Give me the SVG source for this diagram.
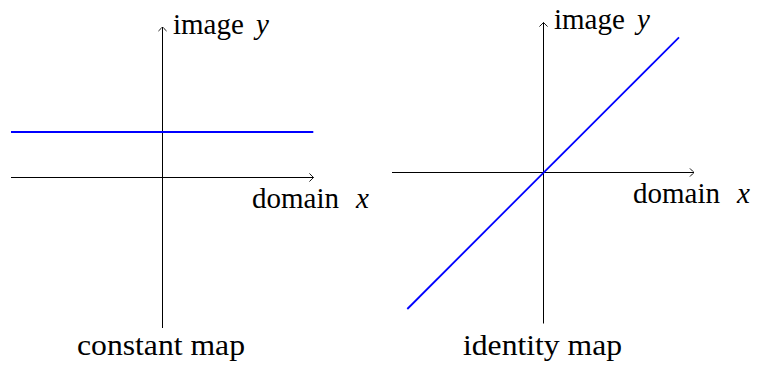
<svg xmlns="http://www.w3.org/2000/svg" width="758" height="367" viewBox="0 0 758 367">
<style>
.axis{stroke:#000;stroke-width:1;fill:none}
.graph{stroke:#0000ff;stroke-width:1.8;fill:none}
.lbl{font-family:"Liberation Serif","Times New Roman",serif;font-size:29px;fill:#000}
.m{font-style:italic;font-size:29px}
</style>
<defs>
<marker id="to" viewBox="-6 -6 8 12" markerWidth="8" markerHeight="12" refX="0" refY="0" orient="auto" markerUnits="userSpaceOnUse">
<path d="M-3.8,-3.8 Q-1,-0.9 0,0 Q-1,0.9 -3.8,3.8" fill="none" stroke="#000" stroke-width="0.9" stroke-linecap="round"/>
</marker>
</defs>
<g id="connectors">
<line class="axis" x1="11" y1="177.5" x2="313.5" y2="177.5" marker-end="url(#to)"/>
<line class="axis" x1="162.5" y1="328" x2="162.5" y2="27" marker-end="url(#to)"/>
<line class="axis" x1="392" y1="172.5" x2="694" y2="172.5" marker-end="url(#to)"/>
<line class="axis" x1="543.5" y1="323.5" x2="543.5" y2="22.5" marker-end="url(#to)"/>
<line class="graph" x1="11" y1="132" x2="313.3" y2="132"/>
<line class="graph" x1="407.3" y1="309" x2="679" y2="37.3"/>
</g>
<g id="constant-map">
<text class="lbl" x="173" y="34">image<tspan class="m" x="256">y</tspan></text>
<text class="lbl" x="252" y="208">domain<tspan class="m" x="356">x</tspan></text>
<text class="lbl" x="77" y="355" textLength="168" lengthAdjust="spacingAndGlyphs">constant map</text>
</g>
<g id="identity-map">
<text class="lbl" x="554" y="29">image<tspan class="m" x="637">y</tspan></text>
<text class="lbl" x="633" y="203">domain<tspan class="m" x="737">x</tspan></text>
<text class="lbl" x="463" y="355" textLength="159" lengthAdjust="spacingAndGlyphs">identity map</text>
</g>
</svg>
